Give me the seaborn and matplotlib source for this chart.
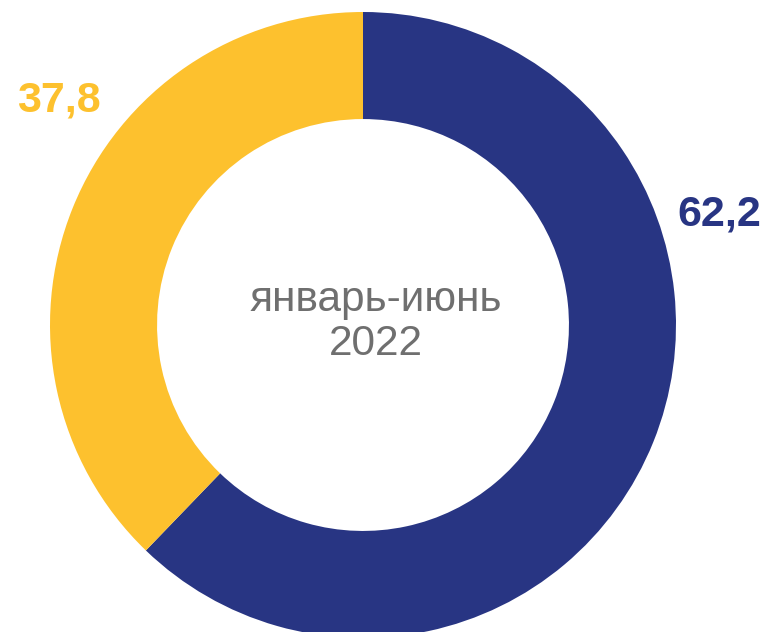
import matplotlib

matplotlib.use("Agg")
import matplotlib.pyplot as plt
import seaborn as sns

# shares, %, clockwise from 12 o'clock
segments = ["Сегмент 1", "Сегмент 2"]
shares = [62.2, 37.8]
share_labels = ["62,2", "37,8"]
colors = ["#283583", "#FDC12E"]
center_text = "январь-июнь\n2022"

sns.set_theme(style="white")
plt.rcParams["font.family"] = ["Liberation Sans", "DejaVu Sans"]

fig = plt.figure(figsize=(7.65, 6.32), dpi=100)
ax = fig.add_axes([0, 0, 1, 1])

cx, cy, r = 363, 632 - 325, 313
wedges, _ = ax.pie(
    shares,
    colors=colors,
    startangle=90,
    counterclock=False,
    radius=r,
    center=(cx, cy),
    wedgeprops={"width": r * 0.342, "linewidth": 0},
)

ax.text(719, 632 - 215, share_labels[0], color=colors[0], fontsize=31,
        fontweight="bold", ha="center", va="center")
ax.text(59, 632 - 100, share_labels[1], color=colors[1], fontsize=31,
        fontweight="bold", ha="center", va="center")
ax.text(376, 632 - 322, center_text, color="#6f6f6f", fontsize=30.5,
        ha="center", va="center", linespacing=1.15)

ax.set_xlim(0, 765)
ax.set_ylim(0, 632)
ax.set_aspect("equal")
ax.axis("off")

fig.savefig("out.png", dpi=100)
